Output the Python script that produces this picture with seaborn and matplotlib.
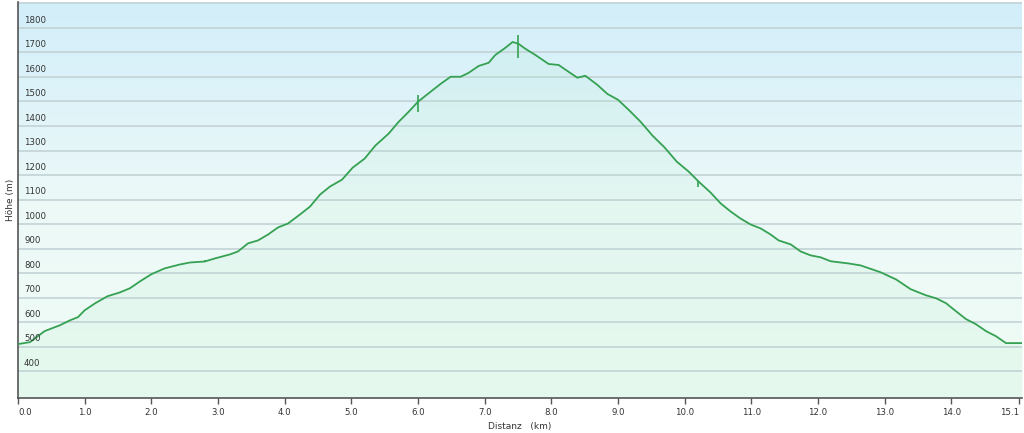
import numpy as np
import pandas as pd
import matplotlib
matplotlib.use("Agg")
import matplotlib.pyplot as plt
import seaborn as sns
from matplotlib.colors import LinearSegmentedColormap

# ---- data ----
distance_km = [0.0, 0.18, 0.4, 0.63, 0.78, 0.9, 1.0, 1.16, 1.34, 1.53, 1.68, 1.83, 2.0,
               2.2, 2.43, 2.58, 2.8, 2.96, 3.18, 3.3, 3.45, 3.6, 3.75, 3.9, 4.05, 4.23,
               4.38, 4.53, 4.68, 4.86, 5.02, 5.2, 5.36, 5.56, 5.71, 5.86, 6.0, 6.19,
               6.34, 6.49, 6.64, 6.76, 6.91, 7.06, 7.16, 7.31, 7.42, 7.51, 7.61, 7.76,
               7.96, 8.11, 8.26, 8.39, 8.51, 8.69, 8.84, 9.0, 9.16, 9.34, 9.52, 9.7,
               9.88, 10.06, 10.21, 10.39, 10.54, 10.69, 10.84, 10.99, 11.14, 11.29,
               11.41, 11.59, 11.74, 11.89, 12.04, 12.19, 12.46, 12.64, 12.94, 13.17,
               13.39, 13.62, 13.77, 13.92, 14.07, 14.22, 14.37, 14.52, 14.67, 14.82,
               14.92, 15.07]
elevation_m = [510, 518, 563, 587, 607, 620, 648, 677, 705, 721, 738, 766, 795,
               819, 835, 843, 847, 860, 876, 888, 921, 933, 957, 986, 1002, 1039,
               1071, 1120, 1153, 1181, 1230, 1267, 1320, 1369, 1417, 1458, 1499, 1540,
               1572, 1601, 1601, 1617, 1645, 1658, 1690, 1719, 1743, 1735, 1715, 1690,
               1653, 1649, 1621, 1597, 1605, 1568, 1531, 1507, 1466, 1417, 1360, 1312,
               1255, 1214, 1173, 1128, 1084, 1051, 1022, 998, 982, 957,
               933, 917, 888, 872, 864, 848, 839, 831, 803, 774,
               734, 709, 697, 677, 644, 612, 591, 563, 542, 514,
               514, 514]

waypoint_km = [2.8, 6.0, 7.5, 10.2]
waypoint_lo = [845, 1458, 1678, 1150]
waypoint_hi = [853, 1527, 1771, 1175]

y_ticks = [400, 500, 600, 700, 800, 900, 1000, 1100, 1200, 1300, 1400, 1500, 1600, 1700, 1800]
grid_levels = y_ticks + [1900]
x_ticks = [0, 1, 2, 3, 4, 5, 6, 7, 8, 9, 10, 11, 12, 13, 14, 15.01]
x_tick_labels = ["0.0", "1.0", "2.0", "3.0", "4.0", "5.0", "6.0", "7.0", "8.0",
                 "9.0", "10.0", "11.0", "12.0", "13.0", "14.0", "15.1"]

df = pd.DataFrame({"Distanz": distance_km, "Höhe": elevation_m})

sns.set_style("white")
plt.rcParams["font.family"] = ["DejaVu Sans"]

fig = plt.figure(figsize=(10.24, 4.33), dpi=100)
ax = fig.add_axes([18 / 1024, 1 - 398 / 433, 1004 / 1024, 396 / 433])

y_min, y_max = 290, 1906
x_min, x_max = 0, 15.06

# background gradient
bg = LinearSegmentedColormap.from_list("bg", ["#f0fcf5", "#ecf9f8", "#d2eefa"])
grad = np.linspace(0, 1, 256).reshape(-1, 1)
ax.imshow(grad, aspect="auto", cmap=bg, origin="lower",
          extent=[0, 1, 0, 1], transform=ax.transAxes, zorder=0)

# grid lines
for g in grid_levels:
    ax.axhline(g, color="#c3d3d6", lw=1.2, zorder=1)

# area fill
ax.fill_between(df["Distanz"], y_min, df["Höhe"], color="#a8e8c4", alpha=0.13,
                lw=0, zorder=2)

sns.lineplot(data=df, x="Distanz", y="Höhe", ax=ax, color="#35a152", lw=1.3,
             zorder=3)

ax.vlines(waypoint_km, waypoint_lo, waypoint_hi, color="#35a152", lw=1.2, zorder=4)

ax.set_xlim(x_min, x_max)
ax.set_ylim(y_min, y_max)

# y labels inside plot
ax.set_yticks([])
for t in y_ticks:
    ax.text(0.006, t + 14, str(t), transform=ax.get_yaxis_transform(),
            fontsize=6.2, color="#333333", ha="left", va="bottom", zorder=5)

ax.set_xticks(x_ticks)
ax.set_xticklabels(x_tick_labels, fontsize=6.2, color="#333333")
ax.get_xticklabels()[0].set_ha("left")
ax.get_xticklabels()[-1].set_ha("right")
ax.tick_params(axis="x", direction="out", length=4, width=1, color="#555555", pad=3,
               bottom=True)

for s in ["top", "right"]:
    ax.spines[s].set_visible(False)
for s in ["left", "bottom"]:
    ax.spines[s].set_color("#555555")
    ax.spines[s].set_linewidth(1.2)

ax.set_xlabel("Distanz   (km)", fontsize=6.5, color="#333333", labelpad=4)
ax.set_ylabel("Höhe (m)", fontsize=6.5, color="#333333", labelpad=2)

fig.savefig("out.png", dpi=100)
